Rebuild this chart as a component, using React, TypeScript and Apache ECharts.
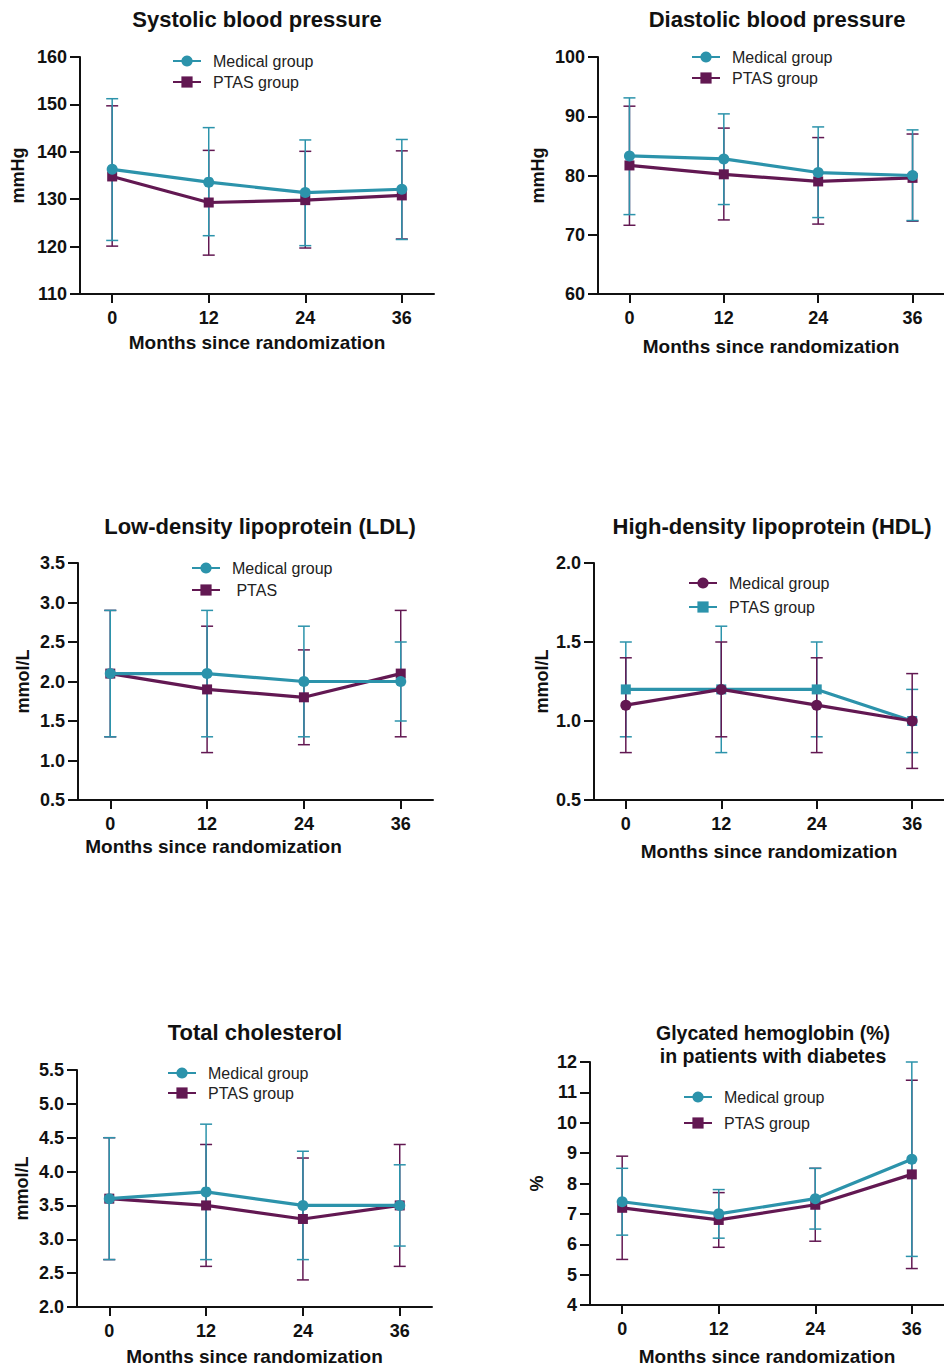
import React, { useEffect, useRef } from "react";
import * as echarts from "echarts";

// ---------- data ----------
const months = [0, 12, 24, 36];
const monthTicks = [0, 12, 24, 36];

// Systolic blood pressure (mmHg)
const sbpMedical = [136.3, 133.6, 131.4, 132.1];
const sbpMedicalLow = [121.3, 122.3, 120.2, 121.5];
const sbpMedicalHigh = [151.2, 145.1, 142.5, 142.6];
const sbpPtas = [134.8, 129.3, 129.8, 130.8];
const sbpPtasLow = [120.1, 118.2, 119.7, 121.6];
const sbpPtasHigh = [149.7, 140.3, 140.1, 140.2];

// Diastolic blood pressure (mmHg)
const dbpMedical = [83.3, 82.8, 80.5, 80.0];
const dbpMedicalLow = [73.4, 75.1, 72.9, 72.4];
const dbpMedicalHigh = [93.1, 90.4, 88.2, 87.7];
const dbpPtas = [81.7, 80.2, 79.0, 79.6];
const dbpPtasLow = [71.6, 72.5, 71.8, 72.3];
const dbpPtasHigh = [91.7, 88.0, 86.4, 87.0];

// LDL (mmol/L)
const ldlMedical = [2.1, 2.1, 2.0, 2.0];
const ldlMedicalLow = [1.3, 1.3, 1.3, 1.5];
const ldlMedicalHigh = [2.9, 2.9, 2.7, 2.5];
const ldlPtas = [2.1, 1.9, 1.8, 2.1];
const ldlPtasLow = [1.3, 1.1, 1.2, 1.3];
const ldlPtasHigh = [2.9, 2.7, 2.4, 2.9];

// HDL (mmol/L)
const hdlMedical = [1.1, 1.2, 1.1, 1.0];
const hdlMedicalLow = [0.8, 0.9, 0.8, 0.7];
const hdlMedicalHigh = [1.4, 1.5, 1.4, 1.3];
const hdlPtas = [1.2, 1.2, 1.2, 1.0];
const hdlPtasLow = [0.9, 0.8, 0.9, 0.8];
const hdlPtasHigh = [1.5, 1.6, 1.5, 1.2];

// Total cholesterol (mmol/L)
const tcMedical = [3.6, 3.7, 3.5, 3.5];
const tcMedicalLow = [2.7, 2.7, 2.7, 2.9];
const tcMedicalHigh = [4.5, 4.7, 4.3, 4.1];
const tcPtas = [3.6, 3.5, 3.3, 3.5];
const tcPtasLow = [2.7, 2.6, 2.4, 2.6];
const tcPtasHigh = [4.5, 4.4, 4.2, 4.4];

// Glycated hemoglobin (%)
const hbMedical = [7.4, 7.0, 7.5, 8.8];
const hbMedicalLow = [6.3, 6.2, 6.5, 5.6];
const hbMedicalHigh = [8.5, 7.8, 8.5, 12.0];
const hbPtas = [7.2, 6.8, 7.3, 8.3];
const hbPtasLow = [5.5, 5.9, 6.1, 5.2];
const hbPtasHigh = [8.9, 7.7, 8.5, 11.4];

// ---------- style ----------
const TEAL = "#2c93ab";
const PURPLE = "#621852";
const INK = "#111111";
const FONT = '"Liberation Sans", Arial, Helvetica, sans-serif';

type SeriesDef = {
  id: string;
  label: string;
  color: string;
  symbol: string;
  mean: number[];
  lo: number[];
  hi: number[];
};

type Panel = {
  title: string;
  titleSize: number;
  yName: string;
  yMin: number;
  yMax: number;
  yInt: number;
  dec: number;
  grid: { left: number; top: number; width: number; height: number };
  titleX: number;
  titleTop: number;
  yNameGap: number;
  xNameGap: number;
  xNamePad: number;
  legendLeft: number;
  legendTop: number;
  legendGap: number;
  medical: SeriesDef;
  ptas: SeriesDef;
};

const mk = (
  id: string,
  label: string,
  color: string,
  symbol: string,
  mean: number[],
  lo: number[],
  hi: number[]
): SeriesDef => ({ id, label, color, symbol, mean, lo, hi });

const panels: Panel[] = [
  {
    title: "Systolic blood pressure",
    titleSize: 22,
    yName: "mmHg",
    yMin: 110,
    yMax: 160,
    yInt: 10,
    dec: 0,
    grid: { left: 80, top: 57, width: 354, height: 237 },
    titleX: 257,
    titleTop: 8,
    yNameGap: 53,
    xNameGap: 39,
    xNamePad: 0,
    legendLeft: 172,
    legendTop: 53,
    legendGap: 5,
    medical: mk("sbp_med", "Medical group", TEAL, "circle", sbpMedical, sbpMedicalLow, sbpMedicalHigh),
    ptas: mk("sbp_ptas", "PTAS group", PURPLE, "rect", sbpPtas, sbpPtasLow, sbpPtasHigh),
  },
  {
    title: "Diastolic blood pressure",
    titleSize: 22,
    yName: "mmHg",
    yMin: 60,
    yMax: 100,
    yInt: 10,
    dec: 0,
    grid: { left: 598, top: 57, width: 356, height: 237 },
    titleX: 777,
    titleTop: 8,
    yNameGap: 51,
    xNameGap: 43,
    xNamePad: 0,
    legendLeft: 691,
    legendTop: 49,
    legendGap: 5,
    medical: mk("dbp_med", "Medical group", TEAL, "circle", dbpMedical, dbpMedicalLow, dbpMedicalHigh),
    ptas: mk("dbp_ptas", "PTAS group", PURPLE, "rect", dbpPtas, dbpPtasLow, dbpPtasHigh),
  },
  {
    title: "Low-density lipoprotein (LDL)",
    titleSize: 22,
    yName: "mmol/L",
    yMin: 0.5,
    yMax: 3.5,
    yInt: 0.5,
    dec: 1,
    grid: { left: 78, top: 563, width: 355, height: 237 },
    titleX: 260,
    titleTop: 515,
    yNameGap: 46,
    xNameGap: 37,
    xNamePad: 84,
    legendLeft: 191,
    legendTop: 560,
    legendGap: 6,
    medical: mk("ldl_med", "Medical group", TEAL, "circle", ldlMedical, ldlMedicalLow, ldlMedicalHigh),
    ptas: mk("ldl_ptas", " PTAS", PURPLE, "rect", ldlPtas, ldlPtasLow, ldlPtasHigh),
  },
  {
    title: "High-density lipoprotein (HDL)",
    titleSize: 22,
    yName: "mmol/L",
    yMin: 0.5,
    yMax: 2.0,
    yInt: 0.5,
    dec: 1,
    grid: { left: 594, top: 563, width: 355, height: 237 },
    titleX: 772,
    titleTop: 515,
    yNameGap: 43,
    xNameGap: 42,
    xNamePad: 0,
    legendLeft: 688,
    legendTop: 575,
    legendGap: 8,
    medical: mk("hdl_med", "Medical group", PURPLE, "circle", hdlMedical, hdlMedicalLow, hdlMedicalHigh),
    ptas: mk("hdl_ptas", "PTAS group", TEAL, "rect", hdlPtas, hdlPtasLow, hdlPtasHigh),
  },
  {
    title: "Total cholesterol",
    titleSize: 22,
    yName: "mmol/L",
    yMin: 2.0,
    yMax: 5.5,
    yInt: 0.5,
    dec: 1,
    grid: { left: 77, top: 1070, width: 355, height: 237 },
    titleX: 255,
    titleTop: 1021,
    yNameGap: 46,
    xNameGap: 40,
    xNamePad: 0,
    legendLeft: 167,
    legendTop: 1065,
    legendGap: 4,
    medical: mk("tc_med", "Medical group", TEAL, "circle", tcMedical, tcMedicalLow, tcMedicalHigh),
    ptas: mk("tc_ptas", "PTAS group", PURPLE, "rect", tcPtas, tcPtasLow, tcPtasHigh),
  },
  {
    title: "Glycated hemoglobin (%)\nin patients with diabetes",
    titleSize: 19.5,
    yName: "%",
    yMin: 4,
    yMax: 12,
    yInt: 1,
    dec: 0,
    grid: { left: 590, top: 1062, width: 364, height: 243 },
    titleX: 773,
    titleTop: 1021,
    yNameGap: 44,
    xNameGap: 42,
    xNamePad: 0,
    legendLeft: 683,
    legendTop: 1089,
    legendGap: 10,
    medical: mk("hb_med", "Medical group", TEAL, "circle", hbMedical, hbMedicalLow, hbMedicalHigh),
    ptas: mk("hb_ptas", "PTAS group", PURPLE, "rect", hbPtas, hbPtasLow, hbPtasHigh),
  },
];

const labelMap: Record<string, string> = {};
panels.forEach((p) => {
  labelMap[p.medical.id] = p.medical.label;
  labelMap[p.ptas.id] = p.ptas.label;
});

function errorSeries(s: SeriesDef, idx: number) {
  return {
    type: "custom",
    id: s.id + "_err",
    xAxisIndex: idx,
    yAxisIndex: idx,
    data: months.map((m, i) => [m, s.lo[i], s.hi[i]]),
    encode: { x: 0, y: [1, 2] },
    silent: true,
    z: 1,
    renderItem: (params: any, api: any) => {
      const x = api.value(0);
      const lo = api.coord([x, api.value(1)]);
      const hi = api.coord([x, api.value(2)]);
      const w = 6;
      const style = { stroke: s.color, lineWidth: 1.5, fill: null };
      return {
        type: "group",
        children: [
          { type: "line", shape: { x1: hi[0], y1: hi[1], x2: lo[0], y2: lo[1] }, style },
          { type: "line", shape: { x1: hi[0] - w, y1: hi[1], x2: hi[0] + w, y2: hi[1] }, style },
          { type: "line", shape: { x1: lo[0] - w, y1: lo[1], x2: lo[0] + w, y2: lo[1] }, style },
        ],
      };
    },
  };
}

function lineSeries(s: SeriesDef, idx: number, z: number) {
  return {
    type: "line",
    name: s.id,
    xAxisIndex: idx,
    yAxisIndex: idx,
    data: months.map((m, i) => [m, s.mean[i]]),
    symbol: s.symbol,
    symbolSize: s.symbol === "rect" ? 10 : 11,
    showSymbol: true,
    lineStyle: { color: s.color, width: 3.2 },
    itemStyle: { color: s.color },
    z,
  };
}

function buildOption() {
  const grid: any[] = [];
  const xAxis: any[] = [];
  const yAxis: any[] = [];
  const title: any[] = [];
  const legend: any[] = [];
  const series: any[] = [];

  panels.forEach((p, i) => {
    grid.push({ ...p.grid, containLabel: false });
    title.push({
      text: p.title,
      left: p.titleX,
      top: p.titleTop,
      textAlign: "center",
      padding: 0,
      textStyle: {
        fontFamily: FONT,
        fontSize: p.titleSize,
        fontWeight: "bold",
        color: INK,
        lineHeight: 23,
      },
    });
    xAxis.push({
      type: "value",
      gridIndex: i,
      min: -4,
      max: 40,
      name: "Months since randomization",
      nameLocation: "middle",
      nameGap: p.xNameGap,
      nameTextStyle: {
        fontFamily: FONT,
        fontSize: 19,
        fontWeight: "bold",
        color: INK,
        padding: [0, p.xNamePad, 0, 0],
      },
      axisLine: { onZero: false, lineStyle: { color: INK, width: 2 } },
      axisTick: { customValues: monthTicks, length: 9, lineStyle: { color: INK, width: 2 } },
      axisLabel: {
        customValues: monthTicks,
        margin: 15,
        fontFamily: FONT,
        fontSize: 18,
        fontWeight: "bold",
        color: INK,
      },
      splitLine: { show: false },
    });
    yAxis.push({
      type: "value",
      gridIndex: i,
      min: p.yMin,
      max: p.yMax,
      interval: p.yInt,
      name: p.yName,
      nameLocation: "middle",
      nameGap: p.yNameGap,
      nameTextStyle: { fontFamily: FONT, fontSize: 18, fontWeight: "bold", color: INK },
      axisLine: { show: true, onZero: false, lineStyle: { color: INK, width: 2 } },
      axisTick: { show: true, length: 10, lineStyle: { color: INK, width: 2 } },
      axisLabel: {
        margin: 13,
        fontFamily: FONT,
        fontSize: 18,
        fontWeight: "bold",
        color: INK,
        formatter: (v: number) => v.toFixed(p.dec),
      },
      splitLine: { show: false },
    });
    legend.push({
      data: [p.medical.id, p.ptas.id],
      orient: "vertical",
      left: p.legendLeft,
      top: p.legendTop,
      padding: 0,
      itemGap: p.legendGap,
      itemWidth: 28,
      itemHeight: 14,
      selectedMode: false,
      formatter: (n: string) => labelMap[n],
      textStyle: { fontFamily: FONT, fontSize: 16, color: "#222", padding: [0, 0, 0, 7] },
    });
    series.push(errorSeries(p.ptas, i));
    series.push(errorSeries(p.medical, i));
    series.push(lineSeries(p.ptas, i, 3));
    series.push(lineSeries(p.medical, i, 4));
  });

  return {
    animation: false,
    backgroundColor: "#ffffff",
    textStyle: { fontFamily: FONT },
    grid,
    xAxis,
    yAxis,
    title,
    legend,
    series,
  };
}

export default function App() {
  const ref = useRef<HTMLDivElement>(null);
  useEffect(() => {
    if (!ref.current) return;
    const chart = echarts.init(ref.current, undefined, { renderer: "svg" });
    chart.setOption(buildOption() as any);
    return () => chart.dispose();
  }, []);
  return (
    <div
      ref={ref}
      style={{ position: "absolute", left: 0, top: 0, width: 944, height: 1367, background: "#fff" }}
    />
  );
}
